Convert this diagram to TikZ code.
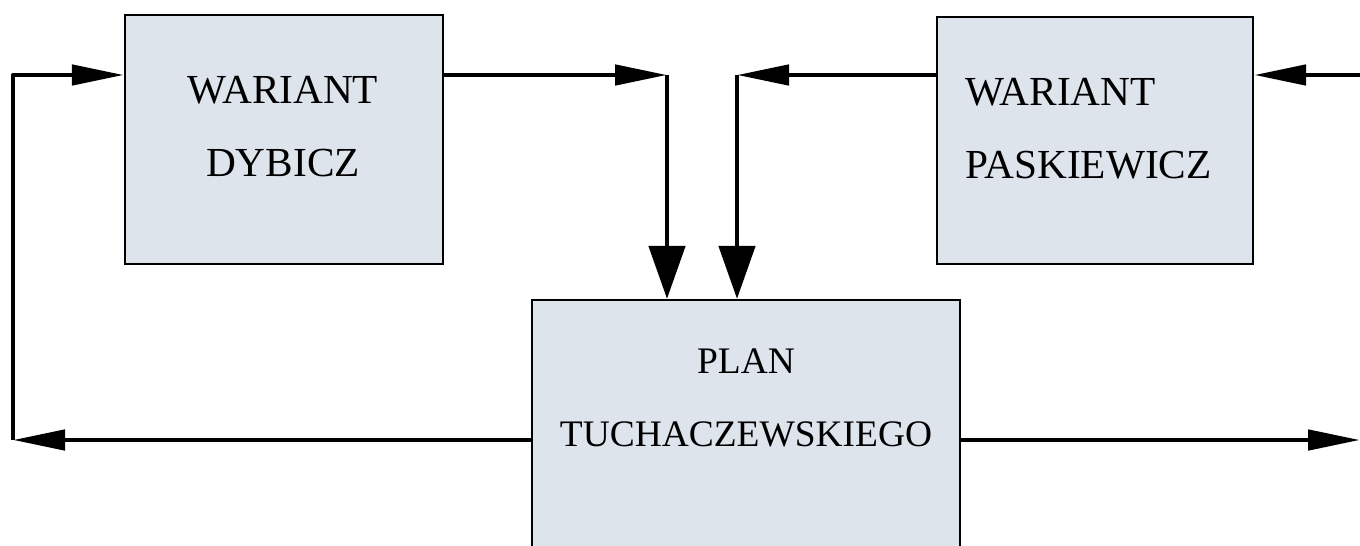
\documentclass[tikz,border=0pt]{standalone}
\usepackage{fontspec}
\setmainfont{Liberation Serif}
\usetikzlibrary{arrows.meta}
\definecolor{boxfill}{RGB}{222,228,236}
\tikzset{
	blok/.style={draw, line width=1.3pt, fill=boxfill, inner sep=0pt},
	napis/.style={inner sep=0pt, font=\fontsize{23.5}{41.5}\selectfont},
	conn/.style={line width=2.7pt, line join=round},
	hTip/.tip={Triangle[length=1.04cm, width=0.4cm]},
	vTip/.tip={Triangle[length=1.06cm, width=0.72cm]}
}
\begin{document}
\begin{tikzpicture}
	%%%%% START %%%%%
	\useasboundingbox (0,0) rectangle (27.2,10.9);
	\clip (0,0) rectangle (27.2,10.9);
	
	\node[blok, minimum width=6.36cm, minimum height=4.98cm] (dyb) at (5.68,8.11) {};
	\node[blok, minimum width=6.32cm, minimum height=4.94cm] (pas) at (21.9,8.09) {};
	\node[blok, minimum width=8.56cm, minimum height=5.6cm] (plan) at (14.92,2.1) {};
	
	\node[napis, align=center] (dybtxt) at (5.66,8.36) {WARIANT\\DYBICZ};
	\node[napis, align=left, anchor=west] (pastxt) at (19.3,8.32) {WARIANT\\PASKIEWICZ};
	\node[napis, align=center, font=\fontsize{21.3}{41.5}\selectfont] (plantxt) at (14.92,2.95) {PLAN\\TUCHACZEWSKIEGO};
	
	\coordinate (lt) at (0.26,9.4);
	\coordinate (lb) at (0.26,2.1);
	\coordinate (dm) at (13.34,9.4);
	\coordinate (pm) at (14.74,9.4);
	\coordinate (rt) at (27.3,9.4);
	\coordinate (rb) at (27.2,2.1);
	
	\draw[conn, -hTip] (plan.west) -- (lb);
	\draw[conn, -hTip] (lb) -- (lt) -- (dyb.west |- lt);
	\draw[conn, -hTip] (dyb.east |- lt) -- (dm);
	\draw[conn, -vTip] (dm) -- (dm |- plan.north);
	\draw[conn, -hTip] (pas.west |- lt) -- (pm);
	\draw[conn, -vTip] (pm) -- (pm |- plan.north);
	\draw[conn, -hTip] (rt) -- (pas.east |- rt);
	\draw[conn, -hTip] (plan.east) -- (rb);
	%%%%% END %%%%%
\end{tikzpicture}
\end{document}
